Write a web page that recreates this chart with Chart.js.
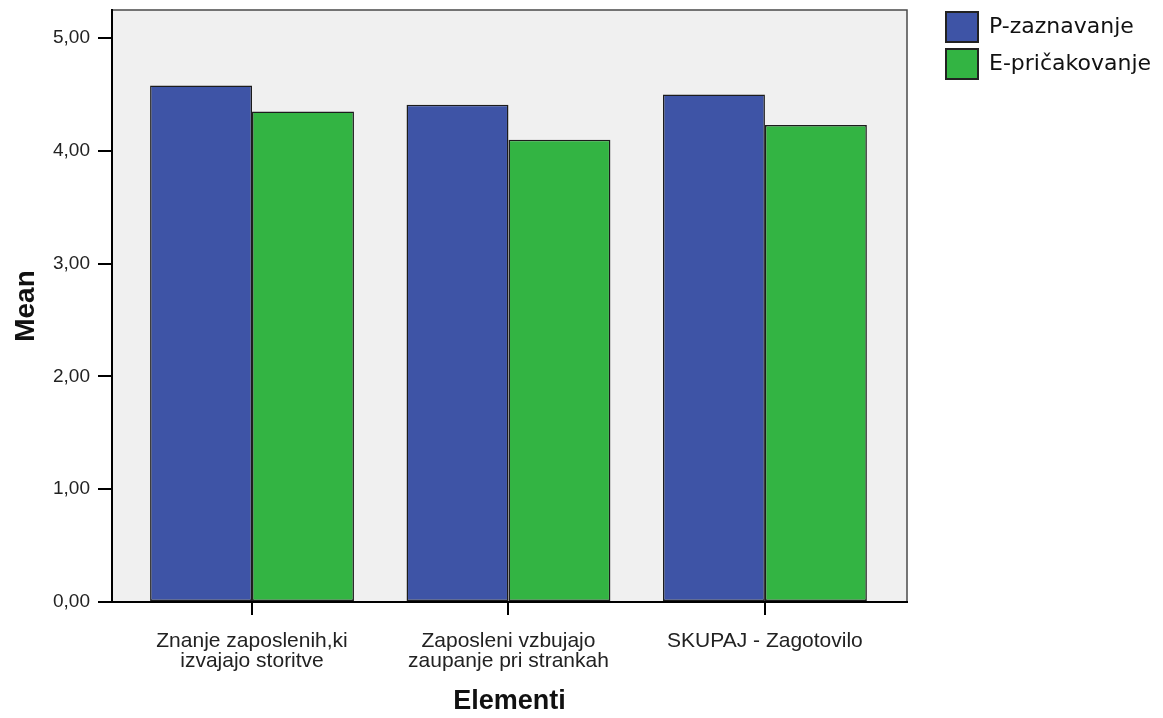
<!DOCTYPE html>
<html>
<head>
<meta charset="utf-8">
<script src="https://cdn.jsdelivr.net/npm/chart.js@4"></script>
<style>
  body { margin: 0; background: #fff; }
  canvas { display: block; }
</style>
</head>
<body>
<canvas id="meanChart" width="1163" height="718"></canvas>
<script>
// Chart data
const categories = [
  ['Znanje zaposlenih,ki', 'izvajajo storitve'],
  ['Zaposleni vzbujajo', 'zaupanje pri strankah'],
  ['SKUPAJ - Zagotovilo']
];
const seriesNames = ['P-zaznavanje', 'E-pričakovanje'];
const perception = [4.58, 4.41, 4.50];
const expectation = [4.35, 4.10, 4.23];
const yTicks = [0, 1, 2, 3, 4, 5];

const legendFont = "'DejaVu Sans', sans-serif";
const legendSize = 22;
const legendPad = 7;

// Grey plot box with top/right frame, like SPSS
const plotBox = {
  id: 'plotBox',
  beforeDraw(chart) {
    const { ctx, chartArea: a } = chart;
    ctx.save();
    ctx.fillStyle = '#F0F0F0';
    ctx.fillRect(a.left, a.top, a.right - a.left, a.bottom - a.top);
    ctx.strokeStyle = '#4a4a4a';
    ctx.lineWidth = 1.5;
    ctx.beginPath();
    ctx.moveTo(a.left, a.top);
    ctx.lineTo(a.right, a.top);
    ctx.lineTo(a.right, a.bottom);
    ctx.stroke();
    ctx.restore();
  }
};

function toPoints(values) {
  return values.map((v, i) => ({ x: i, y: v }));
}

function dropPadding(scale) {
  scale.paddingTop = 0;
  scale.paddingBottom = 0;
  scale.paddingLeft = 0;
  scale.paddingRight = 0;
}

// empty spacer axis (only takes room)
function spacer(position, size) {
  return {
    type: 'linear',
    position: position,
    display: true,
    afterFit(scale) {
      if (scale.isHorizontal()) scale.height = size; else scale.width = size;
      dropPadding(scale);
    },
    grid: { display: false },
    border: { display: false },
    ticks: { display: false }
  };
}

const canvas = document.getElementById('meanChart');
const ctx = canvas.getContext('2d');
Chart.defaults.font.family = "'Liberation Sans', Arial, sans-serif";

// legend box should start at x = 946, so work out the right padding from the text width
ctx.font = legendSize + 'px ' + legendFont;
const legendText = Math.max(...seriesNames.map(s => ctx.measureText(s).width));
const legendWidth = legendPad + 32 + legendSize / 2 + legendText + 10;
const padRight = Math.max(0, 1163 - (946 - legendPad) - legendWidth);

new Chart(ctx, {
  type: 'bar',
  data: {
    datasets: [{
      label: seriesNames[0],
      data: toPoints(perception),
      xAxisID: 'x',
      yAxisID: 'y',
      backgroundColor: '#3E54A6',
      borderColor: '#1c1c1c',
      borderWidth: 1.5,
      borderSkipped: false
    }, {
      label: seriesNames[1],
      data: toPoints(expectation),
      xAxisID: 'x',
      yAxisID: 'y',
      backgroundColor: '#33B443',
      borderColor: '#1c1c1c',
      borderWidth: 1.5,
      borderSkipped: false
    }]
  },
  options: {
    responsive: false,
    animation: false,
    layout: { padding: { top: 5, right: padRight, bottom: 0, left: 0 } },
    datasets: {
      bar: { categoryPercentage: 0.795, barPercentage: 1 }
    },
    plugins: {
      tooltip: { enabled: false },
      legend: {
        position: 'right',
        align: 'start',
        maxWidth: 400,
        labels: {
          boxWidth: 32,
          boxHeight: 30,
          padding: legendPad,
          color: '#111',
          font: { family: legendFont, size: legendSize },
          generateLabels(chart) {
            const items = Chart.defaults.plugins.legend.labels.generateLabels(chart);
            items.forEach(it => { it.lineWidth = 2; it.strokeStyle = '#222'; });
            return items;
          }
        }
      }
    },
    scales: {
      x: {
        type: 'linear',
        min: -0.546,
        max: 2.554,
        offset: false,
        afterFit(scale) { scale.height = 116; dropPadding(scale); },
        grid: { offset: false, drawOnChartArea: false, drawTicks: true, tickLength: 13, color: '#000', lineWidth: 2 },
        border: { display: true, color: '#000', width: 2 },
        ticks: {
          stepSize: 1,
          includeBounds: false,
          maxRotation: 0,
          autoSkip: false,
          padding: 16,
          color: '#222',
          font: { size: 21, lineHeight: 0.95 },
          callback: (v) => categories[v] || ''
        },
        title: {
          display: true,
          text: 'Elementi',
          color: '#111',
          font: { size: 27, weight: 'bold', lineHeight: 1 },
          padding: { top: 0, bottom: 3 }
        }
      },
      y: {
        min: 0,
        max: 5.25,
        afterFit(scale) { scale.width = 112; dropPadding(scale); },
        afterBuildTicks(scale) { scale.ticks = yTicks.map(v => ({ value: v })); },
        grid: { drawOnChartArea: false, drawTicks: true, tickLength: 14, color: '#000', lineWidth: 2 },
        border: { display: true, color: '#000', width: 2 },
        ticks: {
          padding: 8,
          color: '#222',
          font: { size: 19 },
          callback: (v) => v.toFixed(2).replace('.', ',')
        },
        title: {
          display: true,
          text: 'Mean',
          color: '#111',
          font: { size: 28, weight: 'bold', lineHeight: 1.2 },
          padding: { top: 9, bottom: 0 }
        }
      },
      gapRight: spacer('right', 946 - legendPad - 907),
      gapTop: spacer('top', 5)
    }
  },
  plugins: [plotBox]
});
</script>
</body>
</html>
